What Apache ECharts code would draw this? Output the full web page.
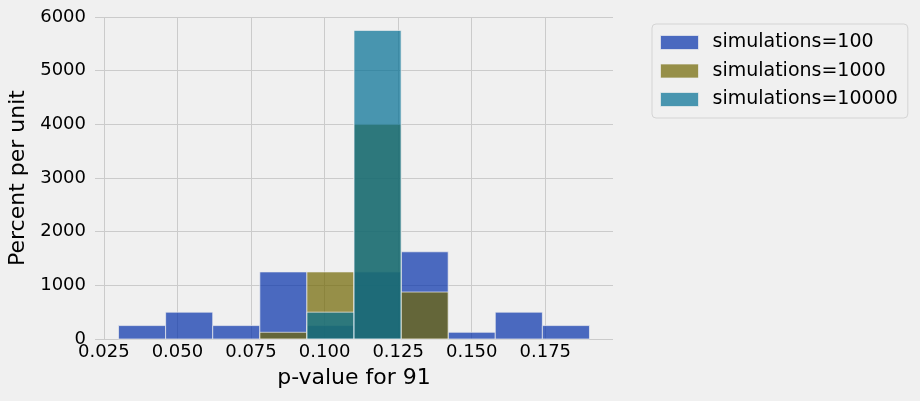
<!DOCTYPE html>
<html>
<head>
<meta charset="utf-8">
<script src="https://cdn.jsdelivr.net/npm/echarts@6/dist/echarts.min.js"></script>
<style>
html,body{margin:0;padding:0;background:#f0f0f0;}
#chart{width:920px;height:401px;}
</style>
</head>
<body>
<div id="chart"></div>
<script>
const binEdges = [0.030, 0.046, 0.062, 0.078, 0.094, 0.110, 0.126, 0.142, 0.158, 0.174, 0.190];
const seriesNames = ['simulations=100', 'simulations=1000', 'simulations=10000'];
const sim100 = [250, 500, 250, 1250, 250, 1250, 1625, 125, 500, 250];
const sim1000 = [0, 0, 0, 125, 1250, 4000, 875, 0, 0, 0];
const sim10000 = [0, 0, 0, 0, 500, 5750, 0, 0, 0, 0];
const xTicks = [0.025, 0.050, 0.075, 0.100, 0.125, 0.150, 0.175];
const colors = ['rgb(3,47,169)', 'rgb(111,101,0)', 'rgb(0,109,147)'];

const FONT = 'DejaVu Sans';
const allValues = [sim100, sim1000, sim10000];

function toData(vals) {
  const out = [];
  vals.forEach((v, i) => {
    if (v > 0) out.push([binEdges[i], binEdges[i + 1], v]);
  });
  return out;
}

const series = seriesNames.map((name, k) => ({
  name: name,
  type: 'custom',
  itemStyle: { color: colors[k], opacity: 0.7 },
  encode: { x: [0, 1], y: 2 },
  data: toData(allValues[k]),
  renderItem: function (params, api) {
    const p0 = api.coord([api.value(0), api.value(2)]);
    const p1 = api.coord([api.value(1), 0]);
    return {
      type: 'rect',
      shape: { x: p0[0], y: p0[1], width: p1[0] - p0[0], height: p1[1] - p0[1] },
      style: { fill: colors[k], stroke: '#f0f0f0', lineWidth: 1, opacity: 0.7 }
    };
  }
}));

const chart = echarts.init(document.getElementById('chart'));
chart.setOption({
  backgroundColor: '#f0f0f0',
  animation: false,
  textStyle: { fontFamily: FONT },
  grid: { left: 95, right: 307, top: 17, bottom: 62, containLabel: false, outerBoundsMode: 'none' },
  legend: {
    orient: 'vertical',
    left: 652,
    top: 24,
    padding: [9, 10, 9, 8],
    borderColor: '#d4d4d4',
    borderWidth: 1,
    borderRadius: 4,
    backgroundColor: '#f0f0f0',
    itemWidth: 38,
    itemHeight: 14,
    itemGap: 9.5,
    icon: 'rect',
    textStyle: { fontFamily: FONT, fontSize: 19, color: '#000', padding: [0, 0, 0, 9], lineHeight: 19 },
    data: seriesNames.map((n, k) => ({ name: n, itemStyle: { color: colors[k], opacity: 0.7, borderColor: '#f0f0f0', borderWidth: 1 } }))
  },
  xAxis: {
    type: 'value',
    min: 0.022,
    max: 0.198,
    name: 'p-value for 91',
    nameLocation: 'middle',
    nameGap: 28,
    nameTextStyle: { fontFamily: FONT, fontSize: 22, color: '#000' },
    axisLine: { show: false },
    axisTick: { show: false, customValues: xTicks },
    axisLabel: {
      customValues: xTicks,
      fontFamily: FONT, fontSize: 18, color: '#000', margin: 4,
      formatter: v => v.toFixed(3)
    },
    splitLine: { show: true, lineStyle: { color: '#cbcbcb', width: 1 } }
  },
  yAxis: {
    type: 'value',
    min: 0,
    max: 6000,
    interval: 1000,
    name: 'Percent per unit',
    nameLocation: 'middle',
    nameGap: 65,
    nameTextStyle: { fontFamily: FONT, fontSize: 22, color: '#000' },
    axisLine: { show: false },
    axisTick: { show: false },
    axisLabel: { fontFamily: FONT, fontSize: 18, color: '#000', margin: 9, formatter: v => String(v) },
    splitLine: { show: true, lineStyle: { color: '#cbcbcb', width: 1 } }
  },
  series: series
});
</script>
</body>
</html>
